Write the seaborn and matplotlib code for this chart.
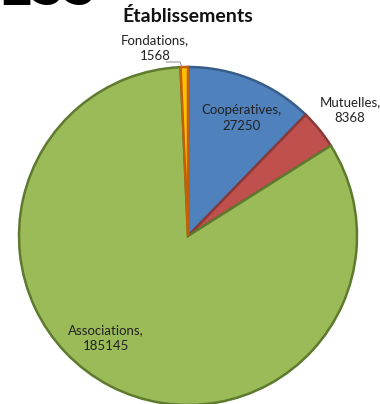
import matplotlib
matplotlib.use("Agg")
import matplotlib.pyplot as plt
import seaborn as sns

sns.set_theme(style="white")
plt.rcParams["font.family"] = ["Lato", "DejaVu Sans"]

categories = ["Coopératives", "Mutuelles", "Associations", "Fondations"]
values = [27250, 8368, 185145, 1568]
fills = ["#4F81BD", "#C0504D", "#9BBB59", "#FFC000"]
edges = ["#385D8A", "#8C3836", "#5E7A2E", "#C0600A"]

fig = plt.figure(figsize=(3.8, 4.04), dpi=100)
fig.patch.set_facecolor("white")

W, H = 380, 404
cx, cy, r = 188, 236, 169
ax = fig.add_axes([(cx - r) / W, (H - cy - r) / H, 2 * r / W, 2 * r / H])

wedges, _ = ax.pie(values, colors=fills, startangle=90, counterclock=False,
                   radius=1, wedgeprops=dict(linewidth=1.8))
for w, ec in zip(wedges, edges):
    w.set_edgecolor(ec)
ax.set_xlim(-1, 1)
ax.set_ylim(-1, 1)
ax.set_aspect("equal")
ax.axis("off")

def to_data(px, py):
    return (px - cx) / r, (cy - py) / r

label_pos = {
    "Coopératives": (242, 118),
    "Mutuelles": (350, 110),
    "Associations": (106, 338),
    "Fondations": (155, 48),
}
for name, val in zip(categories, values):
    x, y = to_data(*label_pos[name])
    ax.text(x, y, f"{name},\n{val}", ha="center", va="center", fontsize=9.5,
            color="#222222", linespacing=1.4, clip_on=False)

# leader line for the small slice
pts = [to_data(166, 62), to_data(180, 62), to_data(182, 67)]
ax.plot([p[0] for p in pts], [p[1] for p in pts], color="#888888", lw=0.7,
        clip_on=False)

fig.text(188 / W, 1 - 22 / H, "Établissements", ha="center", va="baseline",
         fontsize=14, fontweight="bold", color="#111111")
fig.text(-2 / W, 1 - 5 / H, "ESS", ha="left", va="baseline",
         fontsize=42, fontweight="bold", color="black")

fig.savefig("out.png", dpi=100, facecolor="white")
